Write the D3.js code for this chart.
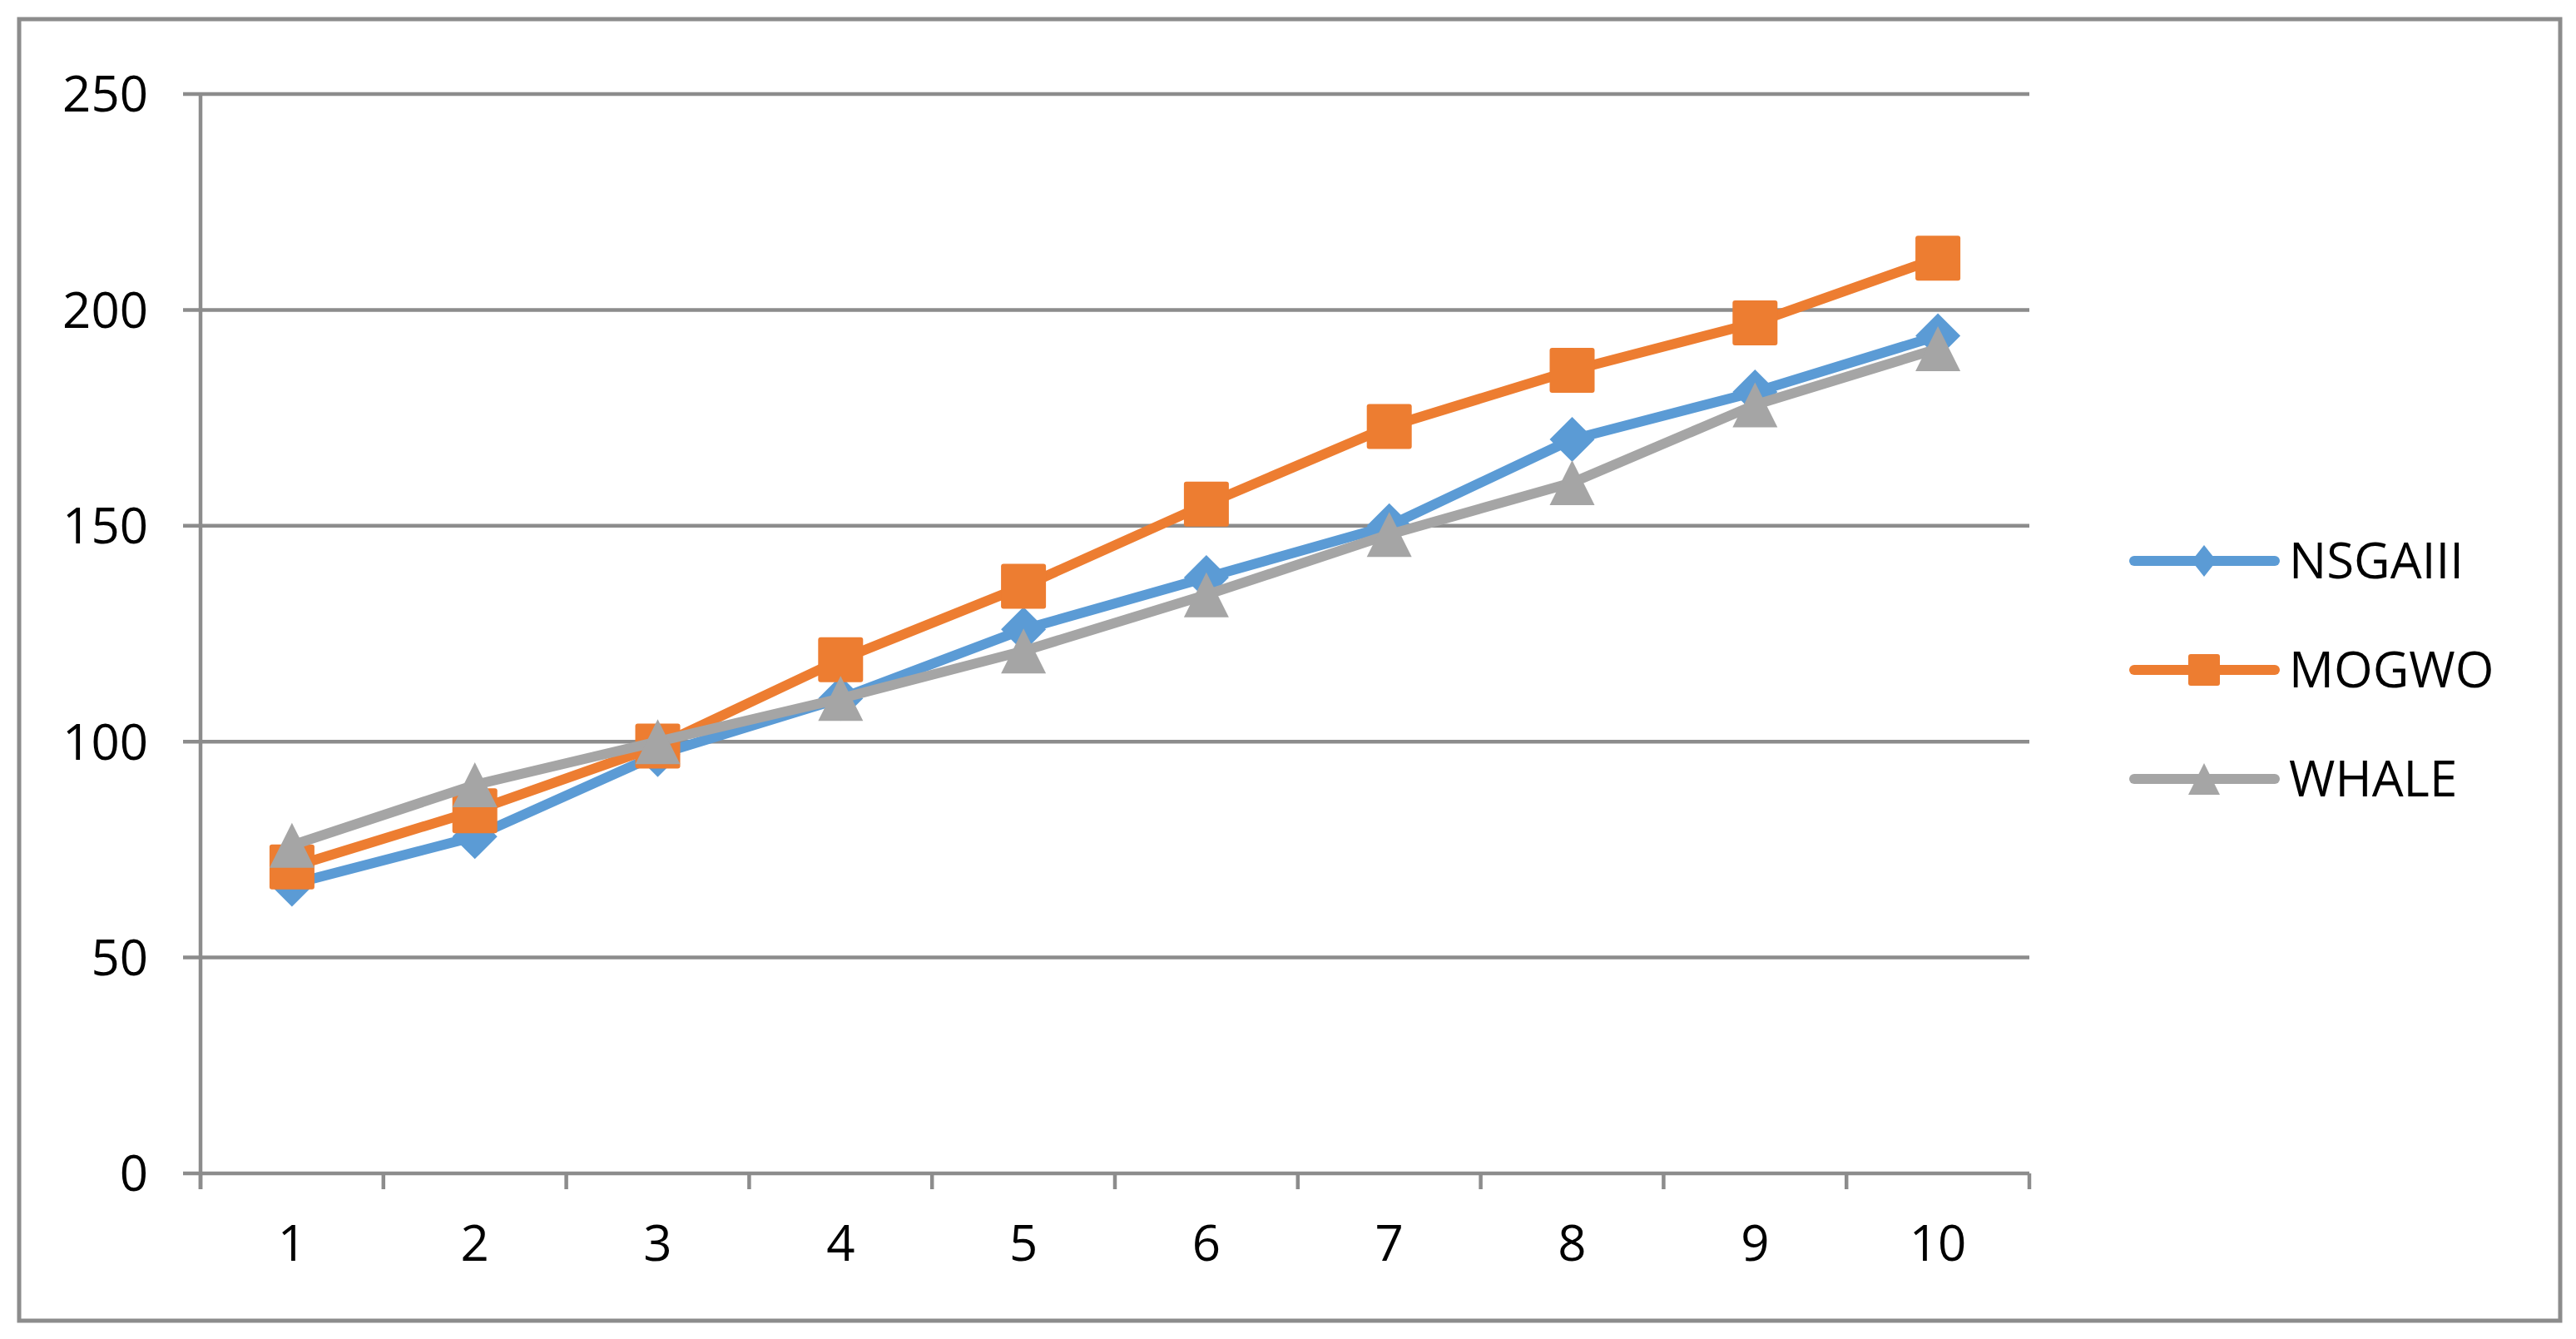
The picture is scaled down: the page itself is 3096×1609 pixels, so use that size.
<!DOCTYPE html>
<html lang="en">
<head>
    <meta charset="UTF-8">
    <title>NSGAIII vs MOGWO vs WHALE</title>
    <style>
        body {
            margin: 0;
            padding: 0;
            background-color: #ffffff;
        }
        svg text {
            font-family: "Open Sans", "Noto Sans", sans-serif;
            fill: #000000;
        }
    </style>
</head>
<body>
    <div id="chart"></div>

    <script src="https://d3js.org/d3.v7.min.js"></script>

    <script>
        // Datos
        const categories = ["1", "2", "3", "4", "5", "6", "7", "8", "9", "10"];
        const nsgaiii = [67, 78, 97, 110, 126, 138, 150, 170, 181, 194];
        const mogwo = [71, 84, 99, 119, 136, 155, 173, 186, 197, 212];
        const whale = [76, 90, 100, 110, 121, 134, 148, 160, 178, 191];
        const yTicks = [0, 50, 100, 150, 200, 250];

        const seriesNames = ["NSGAIII", "MOGWO", "WHALE"];
        const seriesValues = [nsgaiii, mogwo, whale];
        const seriesColors = ["#5B9BD5", "#ED7D31", "#A5A5A5"];
        const seriesShapes = ["diamond", "square", "triangle"];

        const width = 3096;
        const height = 1609;
        const plot = { left: 241, right: 2439, top: 113, bottom: 1410 };
        const gridColor = "#8c8c8c";
        const fontSize = 60;

        const svg = d3.select("#chart")
            .append("svg")
            .attr("width", width)
            .attr("height", height);

        // Borde exterior
        svg.append("rect")
            .attr("x", 23)
            .attr("y", 23)
            .attr("width", 3077 - 23)
            .attr("height", 1587 - 23)
            .attr("fill", "none")
            .attr("stroke", gridColor)
            .attr("stroke-width", 5);

        const x = d3.scaleBand()
            .domain(categories)
            .range([plot.left, plot.right]);

        const y = d3.scaleLinear()
            .domain([0, 250])
            .range([plot.bottom, plot.top]);

        // Líneas de cuadrícula horizontales (con su marca a la izquierda)
        svg.append("g")
            .selectAll("line")
            .data(yTicks)
            .enter().append("line")
            .attr("x1", plot.left - 21)
            .attr("x2", plot.right)
            .attr("y1", d => y(d))
            .attr("y2", d => y(d))
            .attr("stroke", gridColor)
            .attr("stroke-width", 4.5);

        // Eje Y
        svg.append("line")
            .attr("x1", plot.left)
            .attr("x2", plot.left)
            .attr("y1", y(250))
            .attr("y2", plot.bottom + 19)
            .attr("stroke", gridColor)
            .attr("stroke-width", 4.5);

        svg.append("g")
            .selectAll("text")
            .data(yTicks)
            .enter().append("text")
            .attr("x", 178)
            .attr("y", d => y(d) + fontSize * 0.357)
            .attr("text-anchor", "end")
            .attr("font-size", fontSize)
            .text(d => d);

        // Marcas del eje X entre categorías
        const boundaries = categories.map(c => x(c)).concat([plot.right]);
        svg.append("g")
            .selectAll("line")
            .data(boundaries)
            .enter().append("line")
            .attr("x1", d => d)
            .attr("x2", d => d)
            .attr("y1", plot.bottom)
            .attr("y2", plot.bottom + 19)
            .attr("stroke", gridColor)
            .attr("stroke-width", 4.5);

        svg.append("g")
            .selectAll("text")
            .data(categories)
            .enter().append("text")
            .attr("x", d => x(d) + x.bandwidth() / 2)
            .attr("y", 1515)
            .attr("text-anchor", "middle")
            .attr("font-size", fontSize)
            .text(d => d);

        // Dibuja un marcador centrado en (cx, cy)
        function drawMarker(g, shape, cx, cy, w, h, color) {
            if (shape === "square") {
                g.append("rect")
                    .attr("x", cx - w / 2)
                    .attr("y", cy - h / 2)
                    .attr("width", w)
                    .attr("height", h)
                    .attr("rx", 3)
                    .attr("fill", color);
            } else if (shape === "diamond") {
                g.append("path")
                    .attr("d", `M${cx},${cy - h / 2}L${cx + w / 2},${cy}L${cx},${cy + h / 2}L${cx - w / 2},${cy}Z`)
                    .attr("fill", color);
            } else {
                g.append("path")
                    .attr("d", `M${cx},${cy - h / 2}L${cx + w / 2},${cy + h / 2}L${cx - w / 2},${cy + h / 2}Z`)
                    .attr("fill", color);
            }
        }

        const line = d3.line()
            .x((d, i) => x(categories[i]) + x.bandwidth() / 2)
            .y(d => y(d));

        // Series: línea y marcadores, en orden
        seriesValues.forEach((values, s) => {
            const g = svg.append("g");
            g.append("path")
                .datum(values)
                .attr("d", line)
                .attr("fill", "none")
                .attr("stroke", seriesColors[s])
                .attr("stroke-width", 12)
                .attr("stroke-linejoin", "round")
                .attr("stroke-linecap", "round");

            values.forEach((v, i) => {
                drawMarker(g, seriesShapes[s], x(categories[i]) + x.bandwidth() / 2, y(v), 54, 54, seriesColors[s]);
            });
        });

        // Leyenda
        const legendY = [674, 805, 936];
        seriesNames.forEach((name, s) => {
            const g = svg.append("g");
            g.append("line")
                .attr("x1", 2565)
                .attr("x2", 2734)
                .attr("y1", legendY[s])
                .attr("y2", legendY[s])
                .attr("stroke", seriesColors[s])
                .attr("stroke-width", 12)
                .attr("stroke-linecap", "round");

            const mw = seriesShapes[s] === "diamond" ? 30 : 38;
            drawMarker(g, seriesShapes[s], 2649, legendY[s], mw, 38, seriesColors[s]);

            g.append("text")
                .attr("x", 2751)
                .attr("y", legendY[s] + fontSize * 0.357)
                .attr("font-size", fontSize)
                .text(name);
        });
    </script>
</body>
</html>
